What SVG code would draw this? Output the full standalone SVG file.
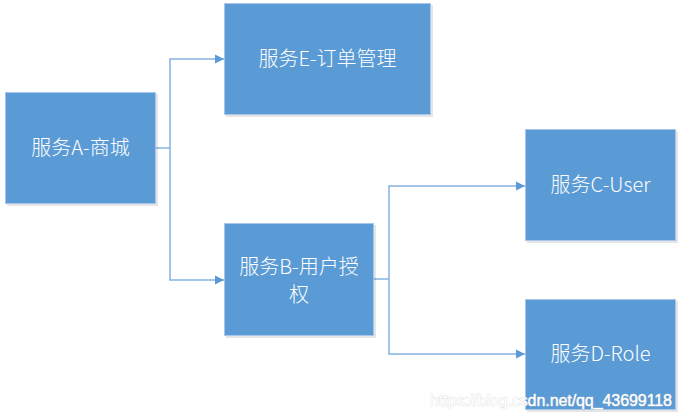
<svg xmlns="http://www.w3.org/2000/svg" width="682" height="419" viewBox="0 0 682 419">
<style>
.box{fill:#5B9BD5;stroke:#A7C5E8;stroke-width:1}
.shadow{fill:#000;opacity:0.10}
.lbl{font-family:"Noto Sans CJK SC","Liberation Sans",sans-serif;font-size:20px;font-weight:300;fill:#FFFFFF;text-anchor:middle}
.conn{fill:none;stroke:#86B3E1;stroke-width:1.5}
.wm{font-family:"Liberation Sans",Arial,sans-serif;font-size:16px;fill:#FFFFFF;stroke:#D6D6D6;stroke-width:0.7;paint-order:stroke}
</style>
<defs>
<marker id="arr" viewBox="0 0 10 10" refX="10" refY="5" markerWidth="9" markerHeight="10" markerUnits="userSpaceOnUse" orient="auto">
<path d="M0,0 L10,5 L0,10 Z" fill="#5B9BD5"/>
</marker>
</defs>
<rect width="682" height="419" fill="#FFFFFF"/>
<g id="connectors">
<path class="conn" d="M156,148 H170"/>
<path class="conn" d="M170,148 V59 H224" marker-end="url(#arr)"/>
<path class="conn" d="M170,148 V280 H224" marker-end="url(#arr)"/>
<path class="conn" d="M374,279 H389"/>
<path class="conn" d="M389,279 V186 H525" marker-end="url(#arr)"/>
<path class="conn" d="M389,279 V354 H525" marker-end="url(#arr)"/>
</g>
<g id="nodeA">
<rect class="shadow" x="7" y="94" width="151" height="112"/>
<rect class="box" x="5.5" y="92.5" width="150" height="111"/>
<text class="lbl" x="80.5" y="155">服务A-商城</text>
</g>
<g id="nodeE">
<rect class="shadow" x="226" y="5" width="207" height="112"/>
<rect class="box" x="224.5" y="3.5" width="206" height="111"/>
<text class="lbl" x="327.5" y="66">服务E-订单管理</text>
</g>
<g id="nodeB">
<rect class="shadow" x="226" y="225" width="150" height="113"/>
<rect class="box" x="224.5" y="223.5" width="149" height="112"/>
<text class="lbl" x="299" y="274">服务B-用户授</text>
<text class="lbl" x="299" y="302">权</text>
</g>
<g id="nodeC">
<rect class="shadow" x="527" y="131" width="151" height="112"/>
<rect class="box" x="525.5" y="129.5" width="150" height="111"/>
<text class="lbl" x="600.5" y="192">服务C-User</text>
</g>
<g id="nodeD">
<rect class="shadow" x="527" y="301" width="151" height="111"/>
<rect class="box" x="525.5" y="299.5" width="150" height="110"/>
<text class="lbl" x="600.5" y="361">服务D-Role</text>
</g>
<text class="wm" x="430" y="406" textLength="242">https://blog.csdn.net/qq_43699118</text>
</svg>
